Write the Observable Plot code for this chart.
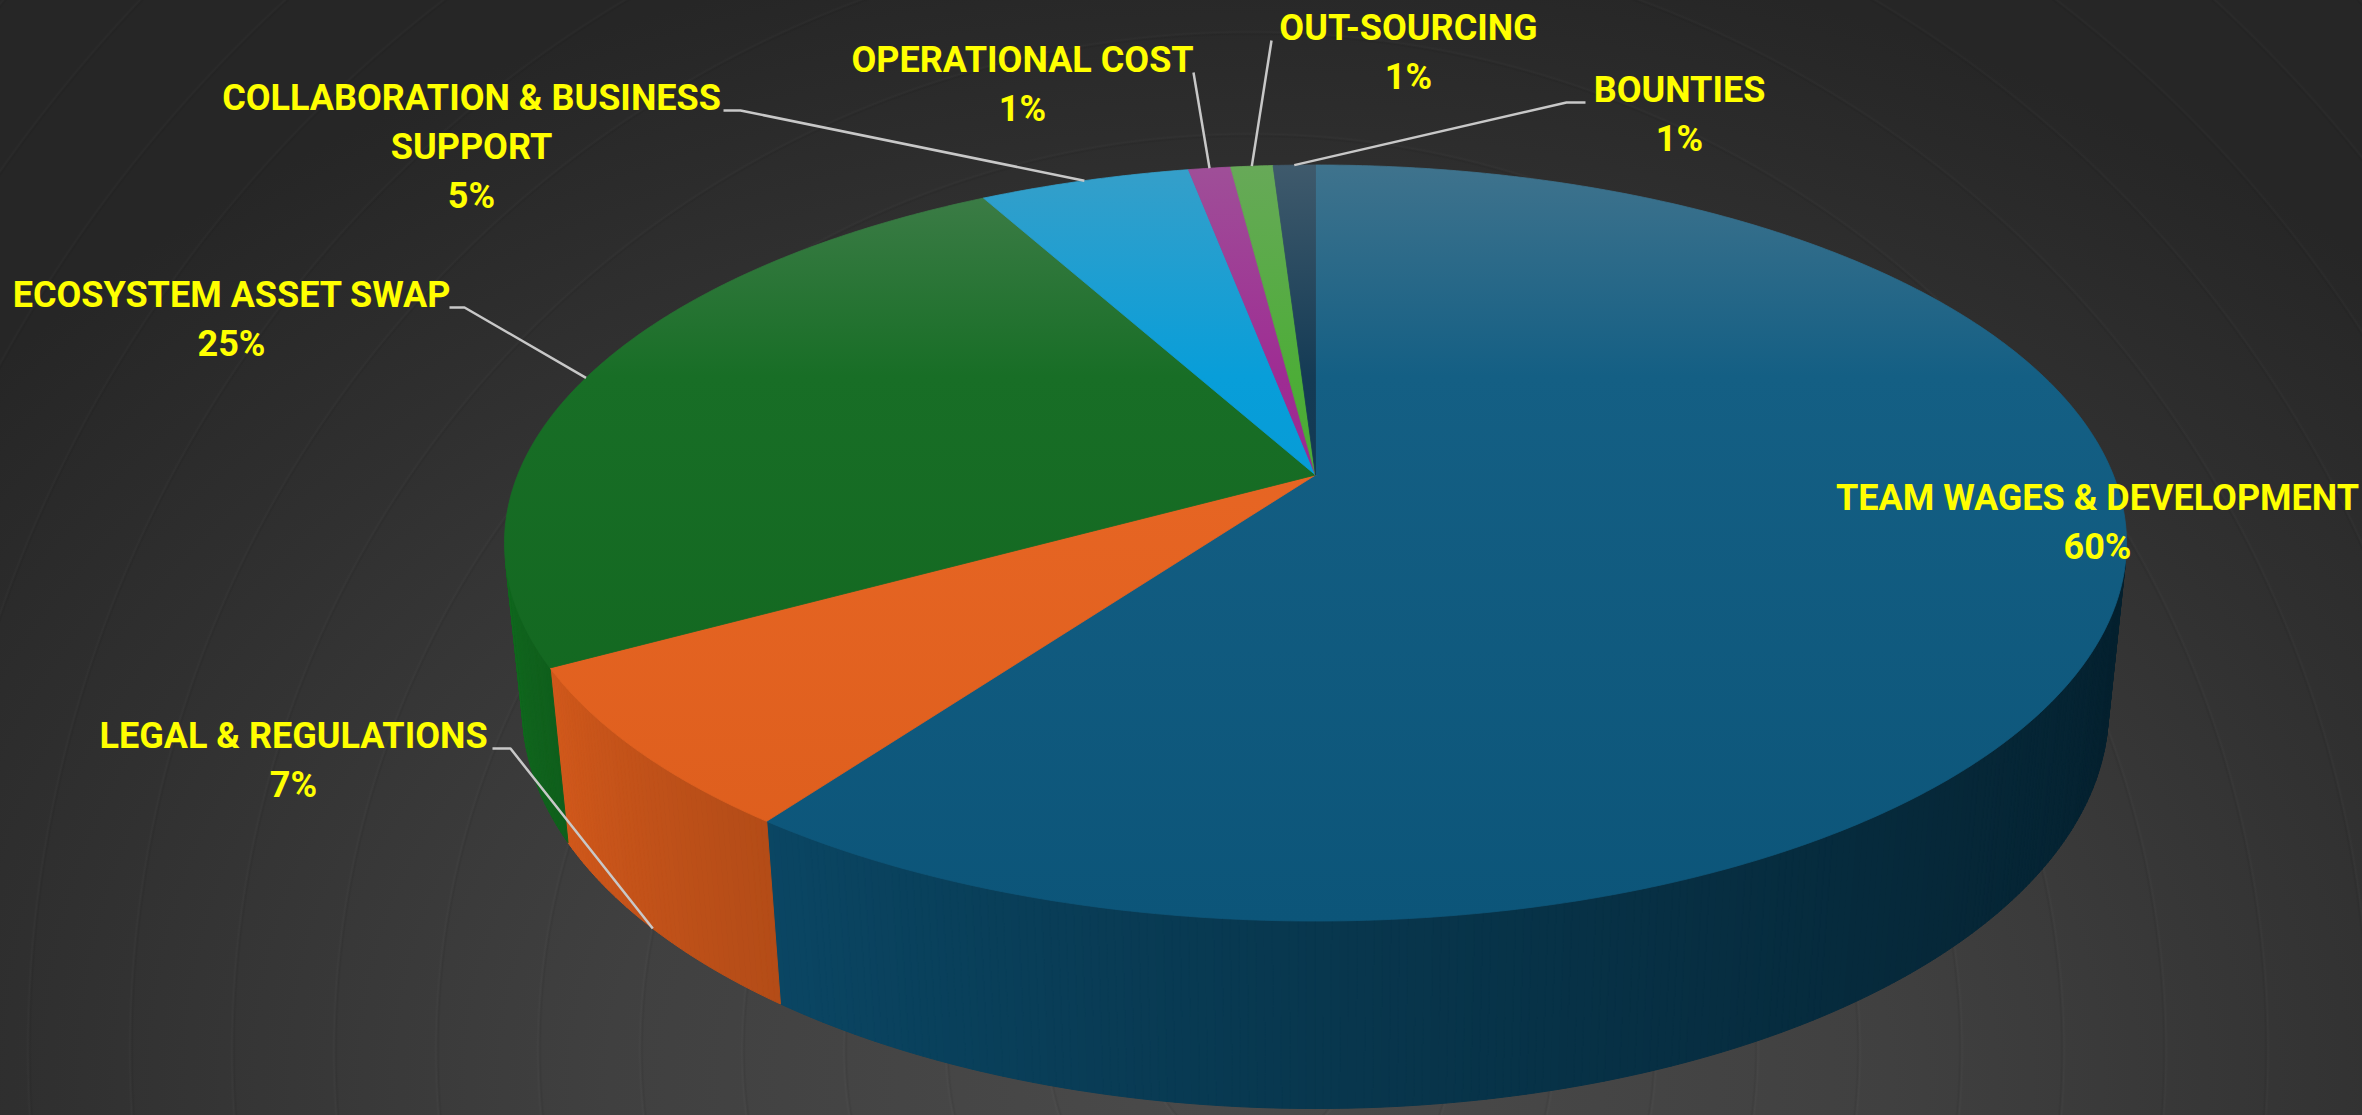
<!DOCTYPE html>
<html>
<head>
<meta charset="utf-8">
<script src="https://cdn.jsdelivr.net/npm/d3@7"></script>
<script src="https://cdn.jsdelivr.net/npm/@observablehq/plot@0.6"></script>
<style>
html, body { margin: 0; padding: 0; width: 2362px; height: 1115px; overflow: hidden; }
body {
  background-color: #333;
  background-image:
    repeating-radial-gradient(circle at 1250px 1050px, rgba(0,0,0,0) 0px, rgba(0,0,0,0) 96px, rgba(0,0,0,0.07) 98px, rgba(255,255,255,0.02) 100px, rgba(0,0,0,0) 102px),
    radial-gradient(ellipse 1600px 1150px at 1250px 1080px, #4b4b4b 0%, #404040 40%, #303030 75%, #262626 100%);
}
#chart { width: 2362px; height: 1115px; }
</style>
</head>
<body>
<div id="chart"></div>
<script>
// ---- data ----
const categories = [
  "TEAM WAGES & DEVELOPMENT",
  "LEGAL & REGULATIONS",
  "ECOSYSTEM ASSET SWAP",
  "COLLABORATION & BUSINESS\nSUPPORT",
  "OPERATIONAL COST",
  "OUT-SOURCING",
  "BOUNTIES"
];
const values = [60, 7, 25, 5, 1, 1, 1];
const colors = ["#0d5a80", "#e8621e", "#116a1f", "#009bd8", "#9b2590", "#48aa32", "#0d3550"];

// label layout (chart units: px from pie centre, y up): centre x, first baseline y, leader start x, elbow length
const labelLayout = [
  {x: 782,   y: -35.5, lead: null},
  {x: -1022, y: -273.5, lead: -823, elbow: 18},
  {x: -1084, y: 167.5, lead: -866, elbow: 15},
  {x: -844,  y: 364.5, lead: -592, elbow: 17},
  {x: -293,  y: 402.5, lead: -122, elbow: 0},
  {x: 93,    y: 434.5, lead: -44,  elbow: 0},
  {x: 364,   y: 372.5, lead: 270,  elbow: -19}
];

// ---- camera for the 3D pie ----
const cam = {s: 0.4585, c: 0.8887, d: 4.94, f: 3941, h: 0.2365};
function project(theta, Y) {
  const X = Math.sin(theta), Z = -Math.cos(theta);
  const depth = cam.d - Y * cam.s - Z * cam.c;
  return [cam.f * X / depth, cam.f * (Y * cam.c - Z * cam.s) / depth];
}

const total = d3.sum(values);
let cum = 0;
const slices = values.map((v, i) => {
  const a0 = cum / total * 2 * Math.PI; cum += v;
  const a1 = cum / total * 2 * Math.PI;
  return {i, name: categories[i], value: v, a0, a1, mid: (a0 + a1) / 2};
});

const step = Math.PI / 360;
function arcAngles(a0, a1) {
  const n = Math.max(1, Math.ceil((a1 - a0) / step));
  return d3.range(n + 1).map(k => a0 + (a1 - a0) * k / n);
}
function shade(c, t) {
  const k = 0.36 + 0.62 * Math.pow(Math.max(0, t), 1.3);
  const r = d3.rgb(c);
  return d3.rgb(r.r * k, r.g * k, r.b * k).formatHex();
}

// top faces
const topPts = [];
slices.forEach(s => {
  const pts = [[0, 0], ...arcAngles(s.a0, s.a1).map(a => project(a, 0)), [0, 0]];
  pts.forEach(([x, y]) => topPts.push({id: "t" + s.i, x, y, fill: `url(#grad${s.i})`}));
});

// visible side walls
const visHalf = Math.acos(1 / (cam.d * cam.c));
const vis0 = Math.PI - visHalf, vis1 = Math.PI + visHalf;
const sidePts = [];
slices.forEach(s => {
  const b0 = Math.max(s.a0, vis0), b1 = Math.min(s.a1, vis1);
  if (b1 <= b0) return;
  const as = arcAngles(b0, b1);
  for (let k = 0; k < as.length - 1; k++) {
    const t = ((as[k] + as[k + 1]) / 2 - vis0) / (vis1 - vis0);
    const col = shade(colors[s.i], t);
    const q = [project(as[k], 0), project(as[k + 1], 0), project(as[k + 1], -cam.h), project(as[k], -cam.h), project(as[k], 0)];
    q.forEach(([x, y]) => sidePts.push({id: `s${s.i}-${k}`, x, y, fill: col}));
  }
});

// shadow under the pie
const shadowPts = arcAngles(0, 2 * Math.PI).map(a => {
  const [x, y] = project(a, -cam.h);
  return {x, y};
});

// label anchors and leader lines
const anchors = slices.map(s => {
  const Z = -Math.cos(s.mid);
  return project(s.mid, Z > 0 ? -cam.h : 0);
});
const leaderPts = [];
labelLayout.forEach((L, i) => {
  if (L.lead == null) return;
  leaderPts.push({id: i, x: L.lead, y: L.y});
  if (L.elbow) leaderPts.push({id: i, x: L.lead + L.elbow, y: L.y});
  leaderPts.push({id: i, x: anchors[i][0], y: anchors[i][1]});
});

const fontSize = 36, lineHeight = 1.36;
const labels = slices.map((s, i) => ({
  text: `${s.name}\n${s.value}%`,
  x: labelLayout[i].x,
  y: labelLayout[i].y + 0.71 * lineHeight * fontSize
}));

const chart = Plot.plot({
  width: 2362, height: 1115,
  margin: 0, marginTop: 0, marginRight: 0, marginBottom: 0, marginLeft: 0,
  x: {domain: [-1315, 1047], axis: null},
  y: {domain: [-640.5, 474.5], axis: null},
  color: {type: "identity"},
  style: {background: "transparent", overflow: "visible", display: "block"},
  marks: [
    Plot.line(shadowPts, {x: "x", y: "y", fill: "#050505", stroke: "none", fillOpacity: 1, dy: 12, dx: 2, ariaLabel: "shadow"}),
    Plot.line(sidePts, {x: "x", y: "y", z: "id", fill: "fill", stroke: "fill", strokeWidth: 1}),
    Plot.line(topPts, {x: "x", y: "y", z: "id", fill: "fill", stroke: "fill", strokeWidth: 0.8}),
    Plot.line(leaderPts, {x: "x", y: "y", z: "id", stroke: "#c8c8c8", strokeWidth: 2.5, strokeLinejoin: "miter", strokeLinecap: "butt"}),
    Plot.text(labels, {
      x: "x", y: "y", text: "text", lineAnchor: "top", lineHeight,
      fontSize, fontWeight: "bold", fill: "#ffff00", textAnchor: "middle",
      fontFamily: "Roboto, 'Liberation Sans', sans-serif", ariaLabel: "labels"
    })
  ]
});

// gradients and blur filter
const ns = "http://www.w3.org/2000/svg";
const defs = document.createElementNS(ns, "defs");
const ys = chart.scale("y");
const yTopPx = ys.apply(project(0, 0)[1]), yBotPx = ys.apply(project(Math.PI, 0)[1]);
colors.forEach((c, i) => {
  const g = document.createElementNS(ns, "linearGradient");
  g.setAttribute("id", `grad${i}`);
  g.setAttribute("gradientUnits", "userSpaceOnUse");
  g.setAttribute("x1", 0); g.setAttribute("x2", 0);
  g.setAttribute("y1", yTopPx); g.setAttribute("y2", yBotPx);
  const stops = [
    [0, d3.interpolateRgb(c, "#a8a8a8")(0.32)],
    [0.28, d3.interpolateRgb(c, "#ffffff")(0.03)],
    [1, d3.rgb(c).darker(0.15).formatHex()]
  ];
  stops.forEach(([o, col]) => {
    const st = document.createElementNS(ns, "stop");
    st.setAttribute("offset", o);
    st.setAttribute("stop-color", col);
    g.appendChild(st);
  });
  defs.appendChild(g);
});
const filt = document.createElementNS(ns, "filter");
filt.setAttribute("id", "blur");
filt.setAttribute("x", "-20%"); filt.setAttribute("y", "-20%");
filt.setAttribute("width", "140%"); filt.setAttribute("height", "140%");
const fb = document.createElementNS(ns, "feGaussianBlur");
fb.setAttribute("stdDeviation", "7");
filt.appendChild(fb);
defs.appendChild(filt);
chart.insertBefore(defs, chart.firstChild);
const sg = chart.querySelector('g[aria-label="shadow"]');
if (sg) sg.setAttribute("filter", "url(#blur)");
// slightly condensed lettering, like the original's narrow bold face
chart.querySelectorAll('g[aria-label="labels"] text').forEach(t => {
  t.setAttribute("transform", (t.getAttribute("transform") || "") + " scale(0.95,1)");
});

document.getElementById("chart").appendChild(chart);
</script>
</body>
</html>
